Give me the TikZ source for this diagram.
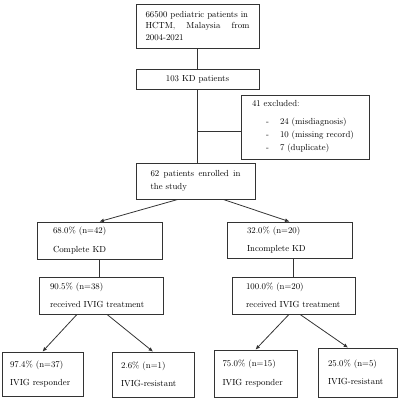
\documentclass[tikz,border=0pt]{standalone}
\usepackage{tikz}
\usetikzlibrary{arrows.meta,positioning,calc}

\newcommand{\exitem}[1]{\hspace*{0.56cm}\makebox[0.56cm][l]{-}#1}

\begin{document}
\begin{tikzpicture}[
    box/.style={draw=black!80, line width=0.9pt, inner sep=0pt, align=left,
        font=\fontsize{10}{14}\selectfont},
    link/.style={draw=black!80, line width=0.9pt},
    arr/.style={link, -{Latex[length=5pt,width=4.5pt]}},
]
\useasboundingbox (0,0) rectangle (16,-16);

% Top of the flow
\node[box, font=\fontsize{10}{13}\selectfont, minimum width=4.92cm, minimum height=1.76cm, text width=4.16cm] (src) at (7.9,-1.04)
    {66500 pediatric patients in\\HCTM,\hfill Malaysia\hfill from\\2004-2021};
\node[box, minimum width=4.92cm, minimum height=0.8cm, align=center] (kd) at (7.9,-3.16)
    {103 KD patients};
\node[box, font=\fontsize{10}{15}\selectfont, minimum width=5.12cm, minimum height=2.56cm, text width=4.24cm] (excl) at (12.2,-5.08)
    {41 excluded:\\[5pt]\exitem{24 (misdiagnosis)}\\\exitem{10 (missing record)}\\\exitem{7 (duplicate)}};
\node[box, minimum width=4.76cm, minimum height=1.44cm, text width=3.6cm] (enr) at (7.82,-7.24)
    {62\hfill patients\hfill enrolled\hfill in\\the study};

% Row 2
\node[box, minimum width=5.0cm, minimum height=1.48cm, text width=3.72cm] (cmp) at (3.98,-9.62)
    {68.0\% (n=42)\\[7pt]Complete KD};
\node[box, minimum width=5.0cm, minimum height=1.44cm, text width=3.4cm] (inc) at (11.58,-9.6)
    {32.0\% (n=20)\\[7pt]Incomplete KD};

% Row 3
\node[box, minimum width=4.96cm, minimum height=1.48cm, text width=4.08cm] (ivL) at (4.04,-11.82)
    {90.5\% (n=38)\\[7pt]received IVIG treatment};
\node[box, minimum width=4.92cm, minimum height=1.48cm, text width=3.8cm] (ivR) at (11.74,-11.82)
    {100.0\% (n=20)\\[7pt]received IVIG treatment};

% Row 4
\node[box, minimum width=3.24cm, minimum height=1.76cm, text width=2.6cm] (respL) at (1.7,-14.96)
    {97.4\% (n=37)\\[7pt]IVIG responder};
\node[box, minimum width=3.28cm, minimum height=1.8cm, text width=2.56cm] (restL) at (6.12,-14.98)
    {2.6\% (n=1)\\[7pt]IVIG-resistant};
\node[box, minimum width=3.32cm, minimum height=1.88cm, text width=2.64cm] (respR) at (10.22,-14.94)
    {75.0\% (n=15)\\[7pt]IVIG responder};
\node[box, minimum width=3.16cm, minimum height=1.96cm, text width=2.36cm] (restR) at (14.3,-14.9)
    {25.0\% (n=5)\\[7pt]IVIG-resistant};

% Connectors
\draw[link] (src.south) -- (kd.north);
\draw[link] (kd.south) -- (kd.south |- enr.north);
\draw[link] (kd.south |- excl.west) ++(0,-0.16) coordinate (jn) -- (jn -| excl.west);
\draw[arr] ([xshift=-0.7cm]enr.south) -- (cmp.north);
\draw[arr] ([xshift=1.1cm]enr.south) -- (inc.north);
\draw[link] (cmp.south) -- (cmp.south |- ivL.north);
\draw[link] (ivR.north |- inc.south) -- (ivR.north);
\draw[arr] ([xshift=-0.96cm]ivL.south) -- (respL.north);
\draw[arr] ([xshift=0.24cm]ivL.south) -- (restL.north);
\draw[arr] ([xshift=-0.18cm]ivR.south) -- (respR.north);
\draw[arr] ([xshift=0.26cm]ivR.south) -- ([xshift=-0.38cm]restR.north);
\end{tikzpicture}
\end{document}
